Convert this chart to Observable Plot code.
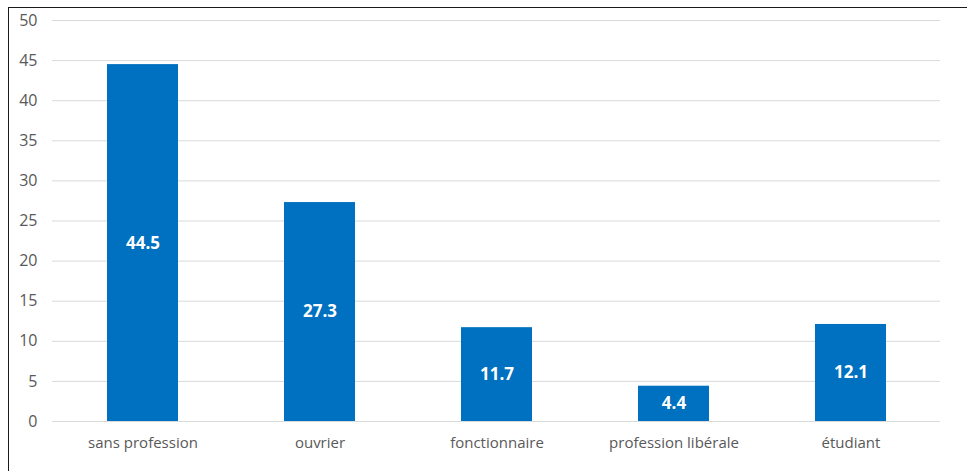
<!DOCTYPE html>
<html>
<head>
<meta charset="utf-8">
<script src="https://cdn.jsdelivr.net/npm/d3@7"></script>
<script src="https://cdn.jsdelivr.net/npm/@observablehq/plot@0.6"></script>
<style>
  html, body { margin: 0; padding: 0; background: #fff; }
  #wrap { position: relative; width: 967px; height: 471px; overflow: hidden; }
  #frame { position: absolute; left: 8px; top: 7px; width: 980px; height: 480px;
           border-left: 1.5px solid #1a1a1a; border-top: 1.5px solid #1a1a1a; box-sizing: border-box; }
  #chart { position: absolute; left: 0; top: 0; }
</style>
</head>
<body>
<div id="wrap"><div id="frame"></div><div id="chart"></div></div>
<script>
const categories = ["sans profession", "ouvrier", "fonctionnaire", "profession libérale", "étudiant"];
const values = [44.5, 27.3, 11.7, 4.4, 12.1];
const yTicks = [0, 5, 10, 15, 20, 25, 30, 35, 40, 45, 50];

const data = categories.map((c, i) => ({category: c, value: values[i]}));

const chart = Plot.plot({
  width: 967,
  height: 471,
  marginLeft: 52,
  marginRight: 27,
  marginTop: 20,
  marginBottom: 50,
  style: {fontFamily: "'Open Sans', 'Noto Sans', sans-serif", background: "transparent"},
  x: {domain: categories, paddingInner: 0.6, paddingOuter: 0.3, label: null},
  y: {domain: [0, 50], label: null},
  marks: [
    Plot.ruleY(yTicks, {stroke: "#d9d9d9", strokeWidth: 1}),
    Plot.barY(data, {x: "category", y: "value", fill: "#0070c0"}),
    Plot.text(data, {x: "category", y: d => d.value / 2, text: d => d.value.toFixed(1),
      fill: "white", fontWeight: "bold", fontSize: 17}),
    Plot.axisY({ticks: yTicks, tickSize: 0, tickPadding: 15, fontSize: 16, fill: "#595959"}),
    Plot.axisX({tickSize: 0, tickPadding: 16, fontSize: 15, fill: "#595959"})
  ]
});
document.getElementById("chart").appendChild(chart);
</script>
</body>
</html>
